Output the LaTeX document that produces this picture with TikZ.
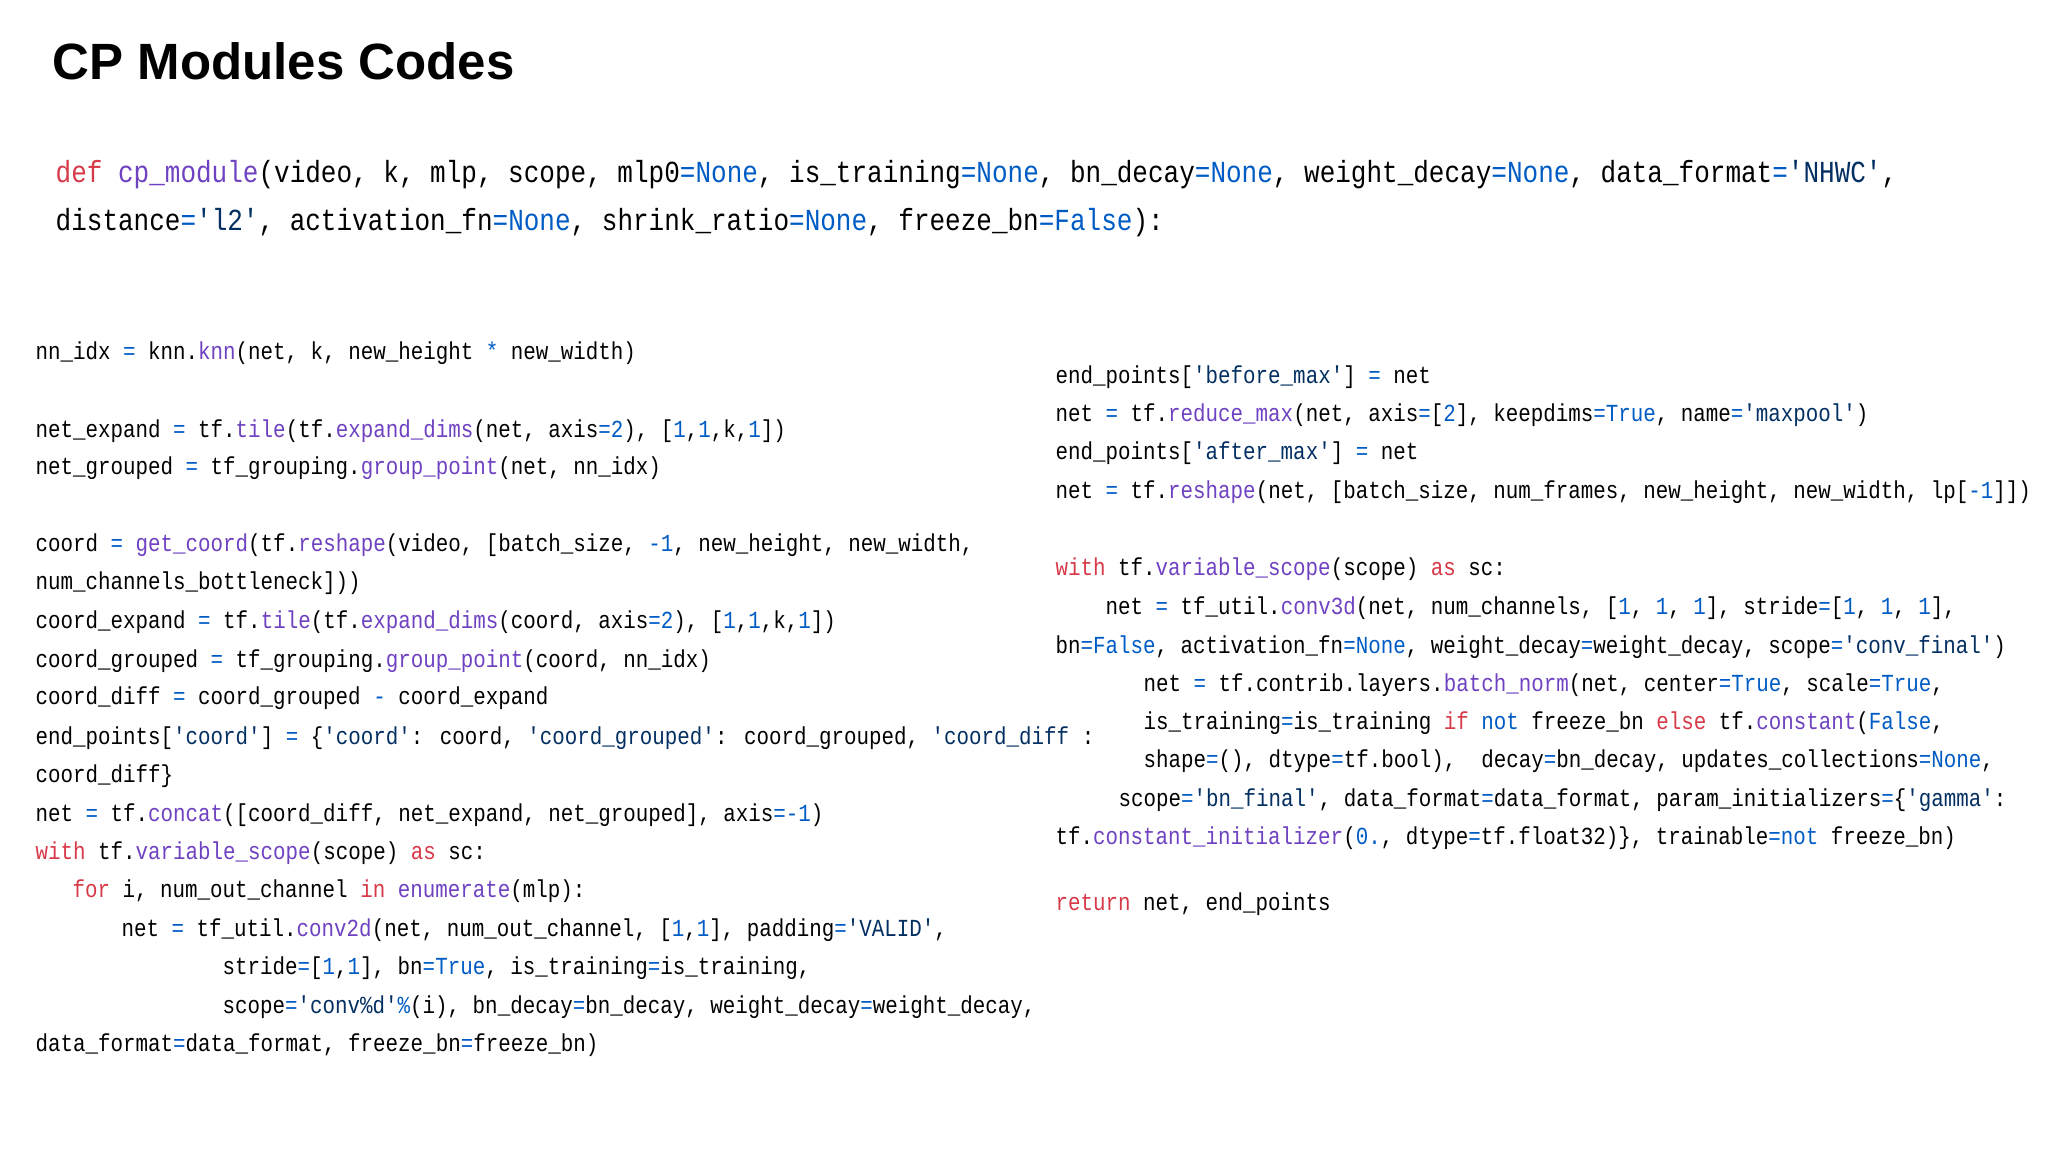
\documentclass[tikz,border=0pt]{standalone}
\usepackage{fontspec}
\usepackage{xcolor}
\newfontfamily\titlefont{Liberation Sans}
\newfontfamily\codefont[FakeStretch=0.85,Ligatures=NoCommon]{Liberation Mono}
\definecolor{kwc}{HTML}{D73A49}
\definecolor{fnc}{HTML}{6F42C1}
\definecolor{nmc}{HTML}{005CC5}
\definecolor{stc}{HTML}{032F62}
\newcommand\K[1]{{\color{kwc}#1}}
\newcommand\F[1]{{\color{fnc}#1}}
\newcommand\N[1]{{\color{nmc}#1}}
\newcommand\Sq[1]{{\color{stc}\char39 #1\char39}}
\newcommand\E{{\color{nmc}=}}
\newcommand\U{\_}
\tikzset{hd/.style={anchor=base west,inner sep=0pt,font=\codefont\fontsize{8.7}{10}\selectfont},
cd/.style={anchor=base west,inner sep=0pt,font=\codefont\fontsize{6.97}{8}\selectfont}}
\begin{document}
\begin{tikzpicture}[x=0.01cm,y=-0.01cm]
\path[use as bounding box,fill=white] (0,0) rectangle (2048,1152);
\node[anchor=base west,inner sep=0pt,font=\titlefont\bfseries\fontsize{14.5}{16}\selectfont] (title) at (52,80) {CP Modules Codes};
\node[hd] (h1) at (55,183) {\K{def} \F{cp\U module}(video, k, mlp, scope, mlp0\E\N{None}, is\U training\E\N{None}, bn\U decay\E\N{None}, weight\U decay\E\N{None}, data\U format\E\Sq{NHWC},};
\node[hd] (h2) at (55,231) {distance\E\Sq{l2}, activation\U fn\E\N{None}, shrink\U ratio\E\N{None}, freeze\U bn\E\N{False}):};
% left column
\node[cd] (l1) at (35,360) {nn\U idx \E{} knn.\F{knn}(net, k, new\U height \N{*} new\U width)};
\node[cd] (l2) at (35,438) {net\U expand \E{} tf.\F{tile}(tf.\F{expand\U dims}(net, axis\E\N{2}), [\N{1},\N{1},k,\N{1}])};
\node[cd] (l3) at (35,475) {net\U grouped \E{} tf\U grouping.\F{group\U point}(net, nn\U idx)};
\node[cd] (l4) at (35,552) {coord \E{} \F{get\U coord}(tf.\F{reshape}(video, [batch\U size, \N{-1}, new\U height, new\U width,};
\node[cd] (l5) at (35,590) {num\U channels\U bottleneck]))};
\node[cd] (l6) at (35,629) {coord\U expand \E{} tf.\F{tile}(tf.\F{expand\U dims}(coord, axis\E\N{2}), [\N{1},\N{1},k,\N{1}])};
\node[cd] (l7) at (35,667) {coord\U grouped \E{} tf\U grouping.\F{group\U point}(coord, nn\U idx)};
\node[cd] (l8) at (35,705) {coord\U diff \E{} coord\U grouped \N{-} coord\U expand};
\node[cd] (l9) at (35,744) {end\U points[\Sq{coord}] \E{} \{\Sq{coord}: coord, \Sq{coord\U grouped}: coord\U grouped, {\color{stc}\char39 coord\U diff}~:};
\node[cd] (l10) at (35,782) {coord\U diff\}};
\node[cd] (l11) at (35,821) {net \E{} tf.\F{concat}([coord\U diff, net\U expand, net\U grouped], axis\E\N{-1})};
\node[cd] (l12) at (35,859) {\K{with} tf.\F{variable\U scope}(scope) \K{as} sc:};
\node[cd] (l13) at (72,897) {\K{for} i, num\U out\U channel \K{in} \F{enumerate}(mlp):};
\node[cd] (l14) at (121,936) {net \E{} tf\U util.\F{conv2d}(net, num\U out\U channel, [\N{1},\N{1}], padding\E\Sq{VALID},};
\node[cd] (l15) at (222,974) {stride\E[\N{1},\N{1}], bn\E\N{True}, is\U training\E is\U training,};
\node[cd] (l16) at (222,1013) {scope\E\Sq{conv\%d}\N{\%}(i), bn\U decay\E bn\U decay, weight\U decay\E weight\U decay,};
\node[cd] (l17) at (35,1051) {data\U format\E data\U format, freeze\U bn\E freeze\U bn)};
% right column
\node[cd] (r1) at (1055,384) {end\U points[\Sq{before\U max}] \E{} net};
\node[cd] (r2) at (1055,422) {net \E{} tf.\F{reduce\U max}(net, axis\E[\N{2}], keepdims\E\N{True}, name\E\Sq{maxpool})};
\node[cd] (r3) at (1055,460) {end\U points[\Sq{after\U max}] \E{} net};
\node[cd] (r4) at (1055,499) {net \E{} tf.\F{reshape}(net, [batch\U size, num\U frames, new\U height, new\U width, lp[\N{-1}]])};
\node[cd] (r5) at (1055,576) {\K{with} tf.\F{variable\U scope}(scope) \K{as} sc:};
\node[cd] (r6) at (1105,614) {net \E{} tf\U util.\F{conv3d}(net, num\U channels, [\N{1}, \N{1}, \N{1}], stride\E[\N{1}, \N{1}, \N{1}],};
\node[cd] (r7) at (1055,653) {bn\E\N{False}, activation\U fn\E\N{None}, weight\U decay\E weight\U decay, scope\E\Sq{conv\U final})};
\node[cd] (r8) at (1143,691) {net \E{} tf.contrib.layers.\F{batch\U norm}(net, center\E\N{True}, scale\E\N{True},};
\node[cd] (r9) at (1143,729) {is\U training\E is\U training \K{if} \N{not} freeze\U bn \K{else} tf.\F{constant}(\N{False},};
\node[cd] (r10) at (1143,767) {shape\E(), dtype\E tf.bool),~~decay\E bn\U decay, updates\U collections\E\N{None},};
\node[cd] (r11) at (1118,806) {scope\E\Sq{bn\U final}, data\U format\E data\U format, param\U initializers\E\{\Sq{gamma}:};
\node[cd] (r12) at (1055,844) {tf.\F{constant\U initializer}(\N{0.}, dtype\E tf.float32)\}, trainable\E\N{not} freeze\U bn)};
\node[cd] (r13) at (1055,910) {\K{return} net, end\U points};
\end{tikzpicture}
\end{document}
